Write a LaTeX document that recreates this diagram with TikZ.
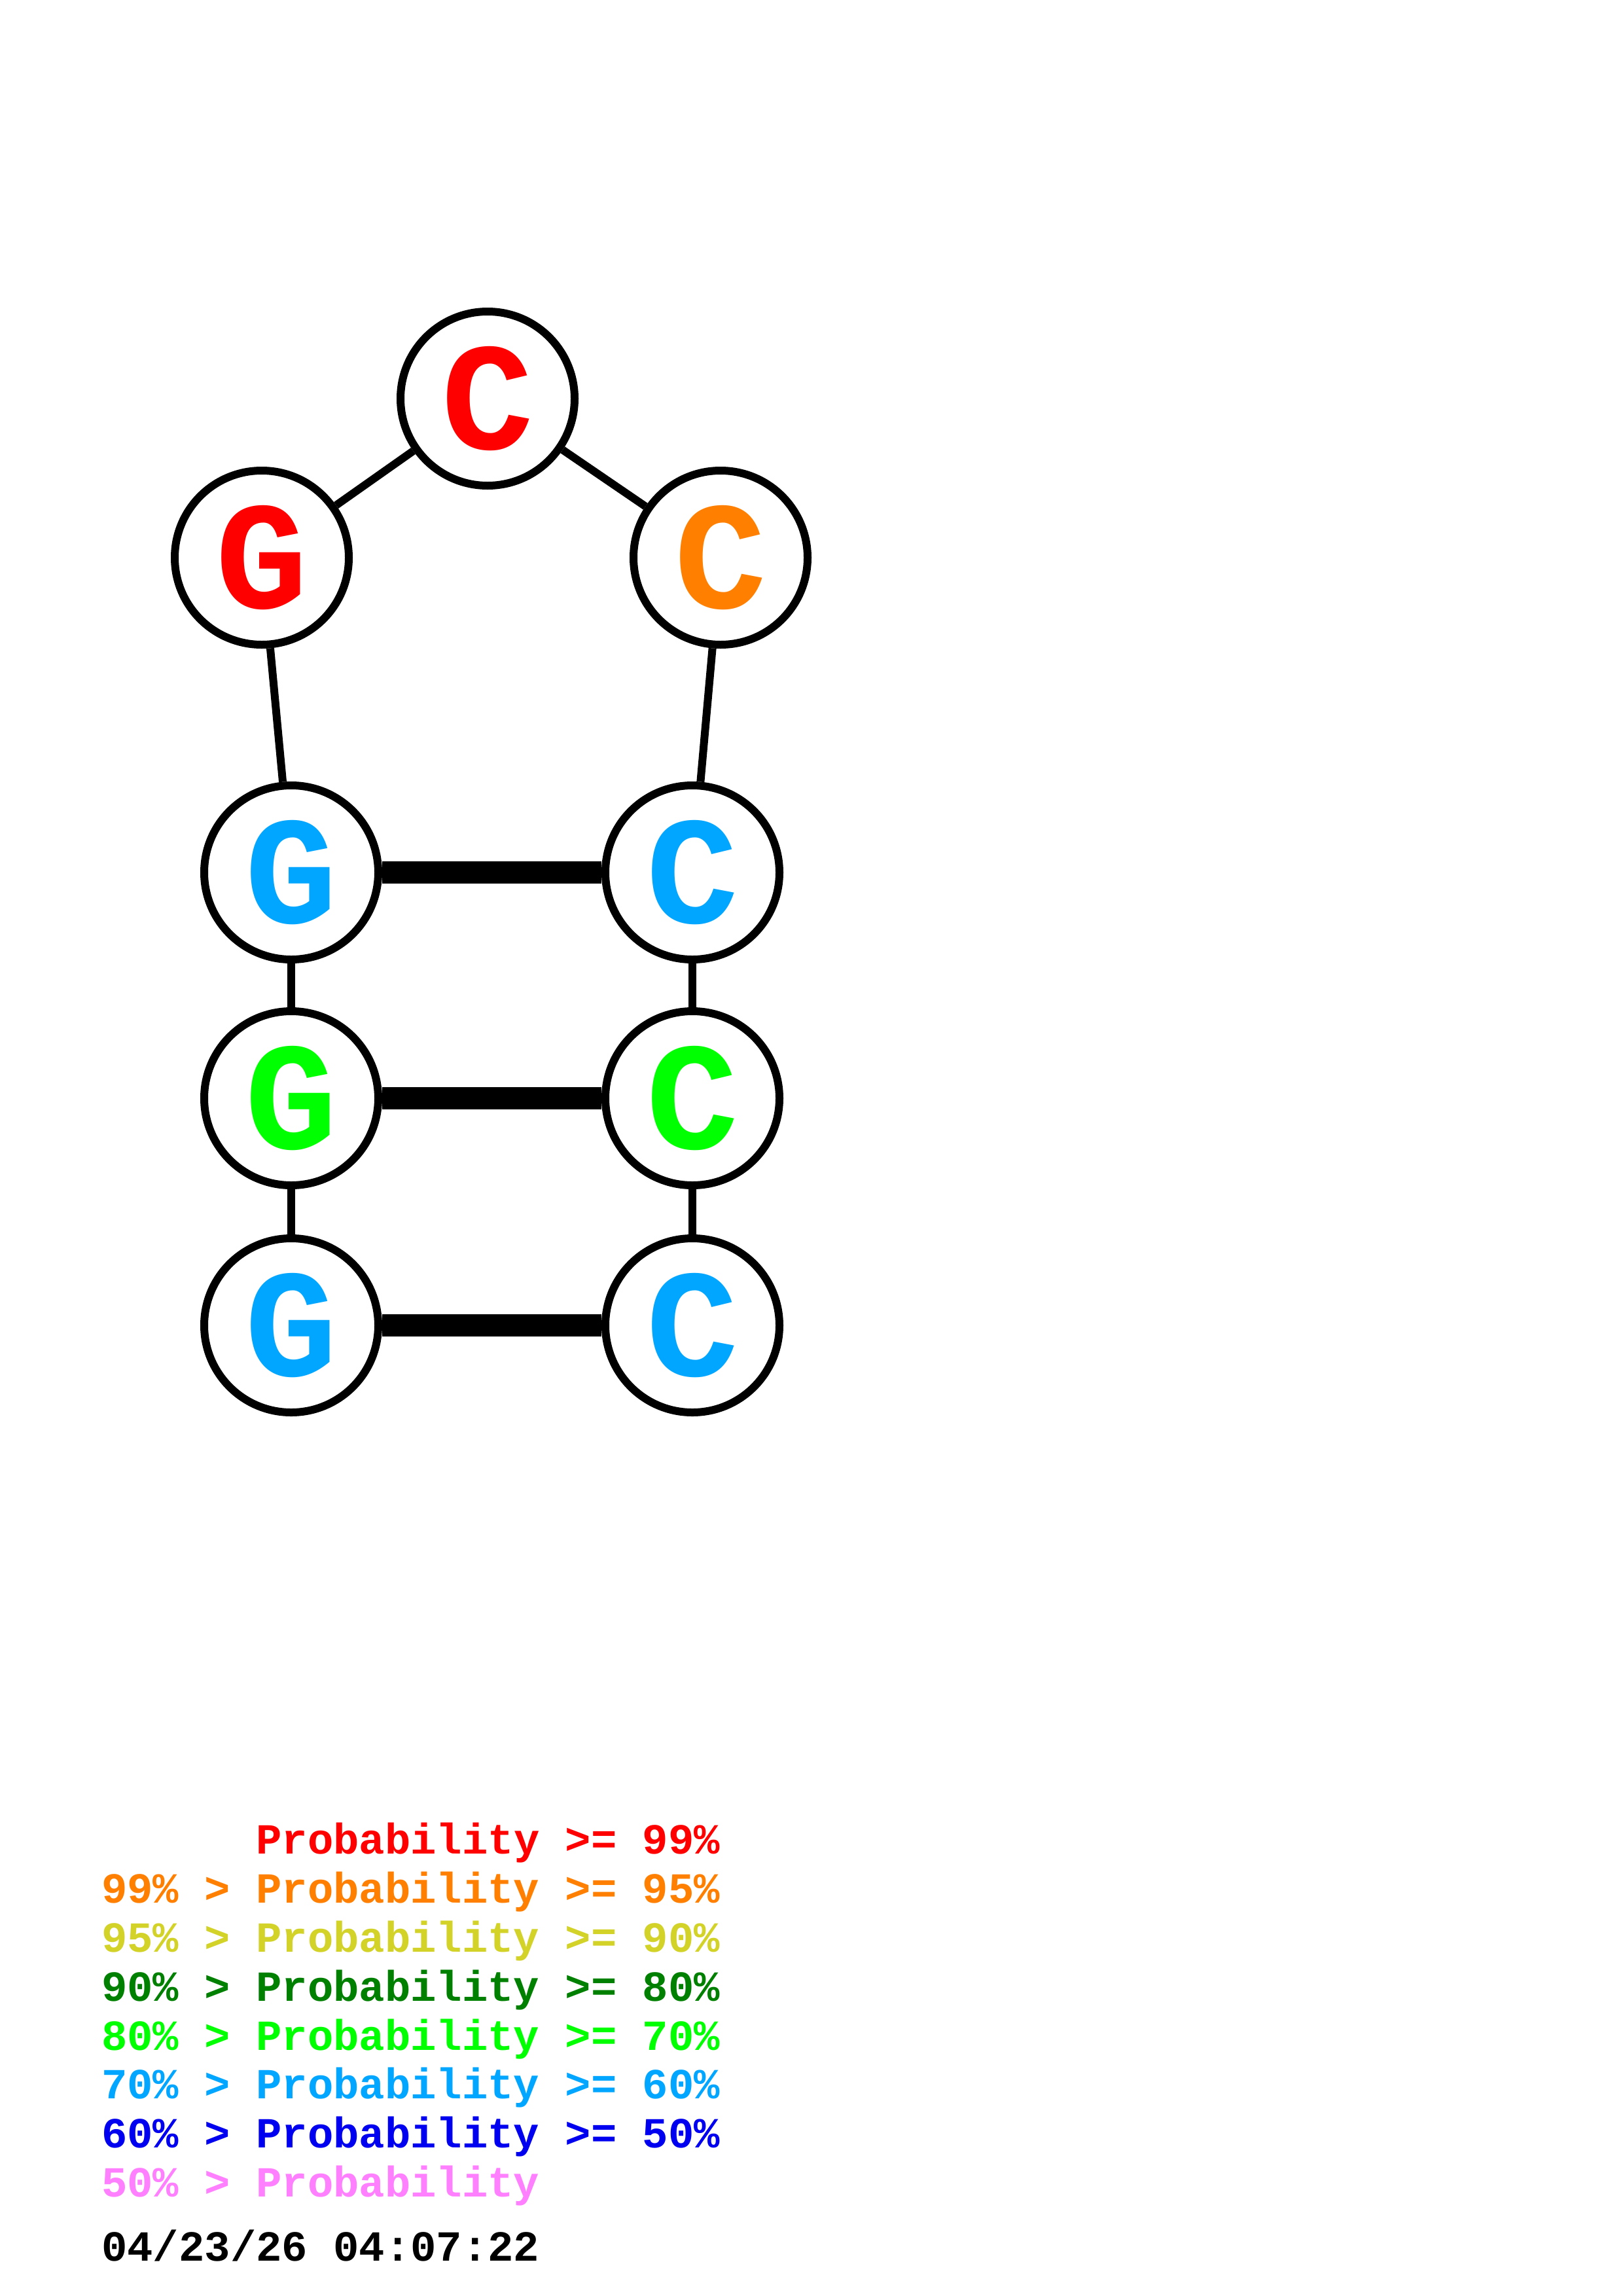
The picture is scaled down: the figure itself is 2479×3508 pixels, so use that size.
\documentclass[tikz,border=0pt]{standalone}
\usepackage{fontspec}
\newfontfamily\monob{Liberation Mono}[BoldFont={Liberation Mono Bold}]
\definecolor{cred}{RGB}{255,0,0}
\definecolor{corange}{RGB}{255,128,0}
\definecolor{cyellow}{RGB}{210,210,40}
\definecolor{cdkgreen}{RGB}{0,128,0}
\definecolor{cgreen}{RGB}{0,255,0}
\definecolor{clblue}{RGB}{0,166,255}
\definecolor{cblue}{RGB}{0,0,240}
\definecolor{cpink}{RGB}{255,128,255}
\begin{document}
\begin{tikzpicture}[x=1pt,y=-1pt,
  base/.style={circle,draw=black,line width=12pt,fill=white,minimum size=266pt,inner sep=0pt,
    font=\monob\bfseries\fontsize{235}{235}\selectfont},
  backbone/.style={line width=12pt,black},
  pair/.style={line width=34pt,black},
  legend/.style={anchor=base west,inner sep=0pt,font=\monob\bfseries\fontsize{65.6}{75}\selectfont}]
\useasboundingbox[fill=white] (0,0) rectangle (2479,3508);
% nodes
\node[base,text=cred]    (c1) at (745,609)  {\raisebox{-14pt}{C}};
\node[base,text=cred]    (g1) at (400,852)  {\raisebox{-14pt}{G}};
\node[base,text=corange] (c2) at (1101,852) {\raisebox{-14pt}{C}};
\node[base,text=clblue]  (g2) at (445,1333) {\raisebox{-14pt}{G}};
\node[base,text=clblue]  (c3) at (1058,1333){\raisebox{-14pt}{C}};
\node[base,text=cgreen]  (g3) at (445,1678) {\raisebox{-14pt}{G}};
\node[base,text=cgreen]  (c4) at (1058,1678){\raisebox{-14pt}{C}};
\node[base,text=clblue]  (g4) at (445,2025) {\raisebox{-14pt}{G}};
\node[base,text=clblue]  (c5) at (1058,2025){\raisebox{-14pt}{C}};
% connectors
\draw[backbone] (c1) -- (g1);
\draw[backbone] (c1) -- (c2);
\draw[backbone] (g1) -- (g2);
\draw[backbone] (c2) -- (c3);
\draw[backbone] (g2) -- (g3);
\draw[backbone] (g3) -- (g4);
\draw[backbone] (c3) -- (c4);
\draw[backbone] (c4) -- (c5);
\draw[pair] (g2) -- (c3);
\draw[pair] (g3) -- (c4);
\draw[pair] (g4) -- (c5);
% legend
\node[legend,text=cred]     (l1) at (155,2832) {\phantom{99\% > }Probability >= 99\%};
\node[legend,text=corange]  (l2) at (155,2907) {99\% > Probability >= 95\%};
\node[legend,text=cyellow]  (l3) at (155,2982) {95\% > Probability >= 90\%};
\node[legend,text=cdkgreen] (l4) at (155,3057) {90\% > Probability >= 80\%};
\node[legend,text=cgreen]   (l5) at (155,3132) {80\% > Probability >= 70\%};
\node[legend,text=clblue]   (l6) at (155,3206) {70\% > Probability >= 60\%};
\node[legend,text=cblue]    (l7) at (155,3281) {60\% > Probability >= 50\%};
\node[legend,text=cpink]    (l8) at (155,3356) {50\% > Probability};
\node[legend,text=black]    (dt) at (155,3454) {04/23/26 04:07:22};
\end{tikzpicture}
\end{document}
